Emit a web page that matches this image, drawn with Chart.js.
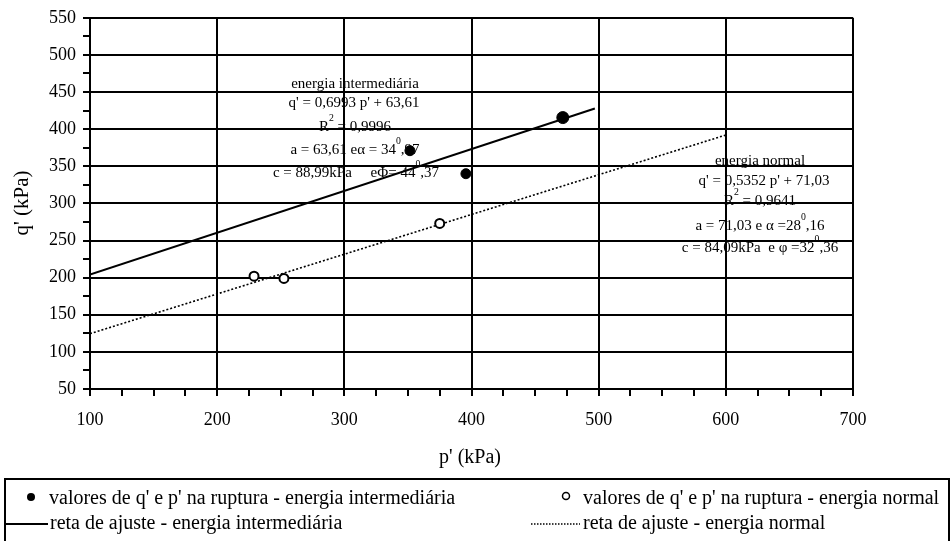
<!DOCTYPE html>
<html>
<head>
<meta charset="utf-8">
<script src="https://cdn.jsdelivr.net/npm/chart.js@4.4.0/dist/chart.umd.min.js"></script>
<style>
  html, body { margin: 0; padding: 0; background: #fff; }
</style>
</head>
<body>
<canvas id="grafico" width="951" height="541"></canvas>
<script>
// Valores de q' e p' na ruptura - energia intermediária
const pIntermediaria = [351.6, 395.6, 471.8];
const qIntermediaria = [371, 340, 415.6];
const raioIntermediaria = [5, 5, 6];

// Valores de q' e p' na ruptura - energia normal
const pNormal = [229, 252.5, 375];
const qNormal = [202, 199, 273];

// Extremos das retas de ajuste
const pAjusteInter = [100, 497];
const qAjusteInter = [204.3, 427.8];
const pAjusteNormal = [100, 600];
const qAjusteNormal = [124.5, 392.1];

// Marcas dos eixos
const ticksX = [100, 200, 300, 400, 500, 600, 700];
const ticksY = [50, 100, 150, 200, 250, 300, 350, 400, 450, 500, 550];

const FONTE = '"Liberation Serif", "Times New Roman", serif';

function pares(xs, ys) {
    return xs.map((x, i) => ({ x: x, y: ys[i] }));
}

// Escreve uma linha centrada com partes sobrescritas
function linhaTexto(ctx, partes, cx, y, tam) {
    let largura = 0;
    partes.forEach(([t, sup]) => {
        ctx.font = (sup ? tam * 0.65 : tam) + 'px ' + FONTE;
        largura += ctx.measureText(t).width;
    });
    let x = cx - largura / 2;
    partes.forEach(([t, sup]) => {
        ctx.font = (sup ? tam * 0.65 : tam) + 'px ' + FONTE;
        ctx.fillText(t, x, sup ? y - tam * 0.55 : y);
        x += ctx.measureText(t).width;
    });
}

// Traços secundários, títulos dos eixos, equações e legenda
const extras = {
    id: 'extras',
    afterDraw(chart) {
        const ctx = chart.ctx;
        const sx = chart.scales.x;
        const sy = chart.scales.y;
        const area = chart.chartArea;
        ctx.save();
        ctx.strokeStyle = '#000';
        ctx.lineWidth = 2;
        ctx.beginPath();
        for (let v = 125; v < 700; v += 25) {
            if (v % 100 === 0) continue;
            const x = Math.round(sx.getPixelForValue(v));
            ctx.moveTo(x, area.bottom);
            ctx.lineTo(x, area.bottom + 7);
        }
        for (let v = 75; v < 550; v += 50) {
            const y = Math.round(sy.getPixelForValue(v));
            ctx.moveTo(area.left - 7, y);
            ctx.lineTo(area.left, y);
        }
        ctx.stroke();

        ctx.fillStyle = '#000';
        ctx.textBaseline = 'middle';
        ctx.textAlign = 'center';
        ctx.font = '20px ' + FONTE;
        ctx.fillText("p' (kPa)", 470, 458);
        ctx.save();
        ctx.translate(22, 203);
        ctx.rotate(-Math.PI / 2);
        ctx.font = '21px ' + FONTE;
        ctx.fillText("q' (kPa)", 0, 0);
        ctx.restore();

        ctx.textAlign = 'left';
        const t = 15;
        linhaTexto(ctx, [['energia intermediária']], 355, 84, t);
        linhaTexto(ctx, [["q' = 0,6993 p' + 63,61"]], 354, 103, t);
        linhaTexto(ctx, [['R'], ['2', true], [' = 0,9996']], 355, 127, t);
        linhaTexto(ctx, [['a = 63,61 e'], ['α'], [' = 34'], ['0', true], [',97']], 355, 150, t);
        linhaTexto(ctx, [['c = 88,99kPa     eΦ= 44'], ['0', true], [',37']], 356, 173, t);

        linhaTexto(ctx, [['energia normal']], 760, 161, t);
        linhaTexto(ctx, [["q' = 0,5352 p' + 71,03"]], 764, 181, t);
        linhaTexto(ctx, [['R'], ['2', true], [' = 0,9641']], 760, 201, t);
        linhaTexto(ctx, [['a = 71,03 e α =28'], ['0', true], [',16']], 760, 226, t);
        linhaTexto(ctx, [['c = 84,09kPa  e φ =32'], ['0', true], [',36']], 760, 248, t);

        // legenda
        ctx.lineWidth = 2;
        ctx.strokeRect(5, 479, 944, 80);
        ctx.font = '20px ' + FONTE;
        ctx.beginPath();
        ctx.arc(31, 497, 4, 0, Math.PI * 2);
        ctx.fill();
        ctx.fillText("valores de q' e p' na ruptura - energia intermediária", 49, 499);
        ctx.beginPath();
        ctx.lineWidth = 1.5;
        ctx.arc(566, 496, 3.5, 0, Math.PI * 2);
        ctx.stroke();
        ctx.fillText("valores de q' e p' na ruptura - energia normal", 583, 499);
        ctx.lineWidth = 2;
        ctx.beginPath();
        ctx.moveTo(6, 524);
        ctx.lineTo(48, 524);
        ctx.stroke();
        ctx.fillText('reta de ajuste - energia intermediária', 50, 524);
        ctx.lineWidth = 1.5;
        ctx.setLineDash([1.5, 1.5]);
        ctx.beginPath();
        ctx.moveTo(531, 524);
        ctx.lineTo(580, 524);
        ctx.stroke();
        ctx.setLineDash([]);
        ctx.fillText('reta de ajuste - energia normal', 583, 524);
        ctx.restore();
    }
};

const eixo = (min, max, marcas) => ({
    type: 'linear',
    min: min,
    max: max,
    afterBuildTicks: (s) => { s.ticks = marcas.map(v => ({ value: v })); },
    grid: { color: '#000', lineWidth: 2, tickLength: 7, tickColor: '#000' },
    border: { color: '#000', width: 2 },
    ticks: { color: '#000', font: { family: FONTE, size: 18 }, maxRotation: 0 }
});

const escalaX = eixo(100, 700, ticksX);
escalaX.ticks.padding = 13;
escalaX.afterFit = (s) => { s.height = 152; };
const escalaY = eixo(50, 550, ticksY);
escalaY.ticks.padding = 7;
escalaY.afterFit = (s) => { s.width = 90; };

new Chart(document.getElementById('grafico'), {
    type: 'scatter',
    data: {
        datasets: [
            {
                label: "valores de q' e p' na ruptura - energia intermediária",
                data: pares(pIntermediaria, qIntermediaria),
                pointRadius: raioIntermediaria,
                backgroundColor: '#000',
                borderColor: '#000',
                borderWidth: 1
            },
            {
                label: "valores de q' e p' na ruptura - energia normal",
                data: pares(pNormal, qNormal),
                pointRadius: 4.5,
                backgroundColor: '#fff',
                borderColor: '#000',
                borderWidth: 2
            },
            {
                label: 'reta de ajuste - energia intermediária',
                data: pares(pAjusteInter, qAjusteInter),
                showLine: true,
                pointRadius: 0,
                borderColor: '#000',
                borderWidth: 2
            },
            {
                label: 'reta de ajuste - energia normal',
                data: pares(pAjusteNormal, qAjusteNormal),
                showLine: true,
                pointRadius: 0,
                borderColor: '#000',
                borderWidth: 1.6,
                borderDash: [2, 2]
            }
        ]
    },
    options: {
        responsive: false,
        animation: false,
        devicePixelRatio: 1,
        layout: { padding: { top: 17, right: 98, left: 0, bottom: 0 } },
        plugins: { legend: { display: false }, tooltip: { enabled: false } },
        scales: { x: escalaX, y: escalaY }
    },
    plugins: [extras]
});
</script>
</body>
</html>
